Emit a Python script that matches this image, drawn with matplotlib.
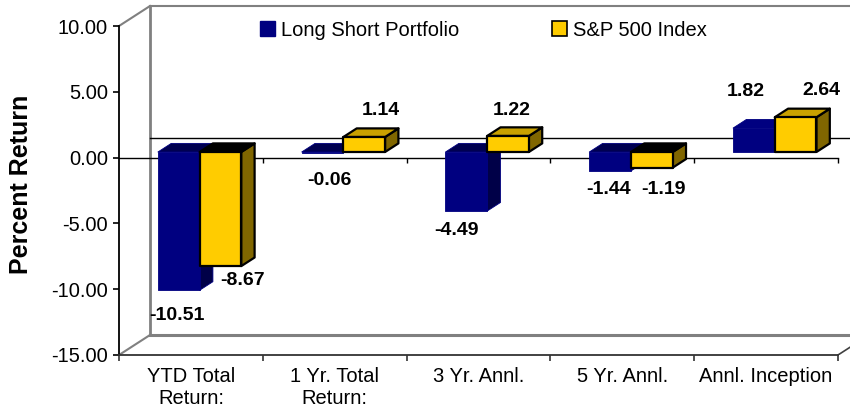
import matplotlib
matplotlib.use("Agg")
import matplotlib.pyplot as plt
from matplotlib.patches import Polygon, Patch

categories = ["YTD Total\nReturn:", "1 Yr. Total\nReturn:", "3 Yr. Annl.", "5 Yr. Annl.", "Annl. Inception"]
long_short = [-10.51, -0.06, -4.49, -1.44, 1.82]
sp500 = [-8.67, 1.14, 1.22, -1.19, 2.64]
series_names = ["Long Short Portfolio", "S&P 500 Index"]
yticks = [-15, -10, -5, 0, 5, 10]

# excel scattered the data labels around, nudge them (pixels)
ls_nudge = [(-2, -25), (7, -28), (-10, -19), (-2, -19), (-8, 37)]
sp_nudge = [(22, -14), (17, 26), (4, 25), (12, -22), (26, 27)]

plt.rcParams['font.family'] = ['Liberation Sans', 'DejaVu Sans']
plt.rcParams['axes.unicode_minus'] = False

W, H = 850, 416
px_cat = 143.8      # pixels per category
px_val = 13.16      # pixels per percent
left_px, bottom_px = 119, 355

fig = plt.figure(figsize=(W / 100, H / 100), dpi=100)
ax = fig.add_axes([left_px / W, (H - bottom_px) / H, (W - left_px) / W, bottom_px / H])
ax.set_xlim(0, (W - left_px) / px_cat)
ax.set_ylim(yticks[0], yticks[0] + bottom_px / px_val)

# depth of the fake 3d box
DX = 31 / px_cat
DY = 20 / px_val
f0 = 0.28           # bars front plane
fd = 0.43           # bar depth
sx, sy = f0 * DX, f0 * DY
bx, by = fd * DX, fd * DY

ncat = len(categories)
ymin, ymax = yticks[0], yticks[-1]
grey = '#808080'

# back wall + floor
ax.plot([DX, DX], [ymin + DY, ymax + DY], color=grey, lw=2, zorder=1)
ax.plot([DX, 10], [ymax + DY, ymax + DY], color=grey, lw=1.5, zorder=1)
ax.plot([DX, 10], [ymin + DY, ymin + DY], color=grey, lw=2.2, zorder=1)
ax.plot([0, DX], [ymax, ymax + DY], color=grey, lw=1.5, zorder=1)
ax.plot([0, DX], [ymin, ymin + DY], color=grey, lw=1.5, zorder=1)
ax.plot([ncat, ncat + DX], [ymin, ymin + DY], color='#404040', lw=1.2, zorder=1)
# zero lines, back and front
ax.plot([DX, 10], [DY, DY], color='black', lw=1, zorder=1)
ax.plot([0, ncat], [0, 0], color='black', lw=1, zorder=1)
ax.vlines(range(1, ncat + 1), -5 / px_val, 0, color='black', lw=1, zorder=1)


def draw_bar(x0, w, v, front, top, side, edge, lw):
    x0 = x0 + sx
    x1 = x0 + w
    lo, hi = min(v, 0) + sy, max(v, 0) + sy
    side_poly = [(x1, lo), (x1, hi), (x1 + bx, hi + by), (x1 + bx, lo + by)]
    top_poly = [(x0, hi), (x1, hi), (x1 + bx, hi + by), (x0 + bx, hi + by)]
    front_poly = [(x0, lo), (x1, lo), (x1, hi), (x0, hi)]
    for pts, c in [(side_poly, side), (top_poly, top), (front_poly, front)]:
        ax.add_patch(Polygon(pts, closed=True, facecolor=c, edgecolor=edge,
                             lw=lw, joinstyle='round', zorder=3))
    return x0 + w / 2, v + sy


bw = 0.29
fs_lab = 14
for i in range(ncat):
    v = long_short[i]
    cx, cy = draw_bar(i + 0.5 - bw, bw, v, '#000080',
                      '#000080' if v > 0 else '#000050', '#000048', '#000080', 0.6)
    ax.annotate(f"{v:.2f}", (cx, cy), xytext=ls_nudge[i], textcoords='offset pixels',
                ha='center', va='center', fontsize=fs_lab, fontweight='bold', zorder=5)
    v = sp500[i]
    cx, cy = draw_bar(i + 0.5, bw, v, '#FFCC00',
                      '#C9A100' if v > 0 else '#000000', '#806600', 'black', 1.6)
    ax.annotate(f"{v:.2f}", (cx, cy), xytext=sp_nudge[i], textcoords='offset pixels',
                ha='center', va='center', fontsize=fs_lab, fontweight='bold', zorder=5)

# axes
for s in ['top', 'right']:
    ax.spines[s].set_visible(False)
ax.spines['left'].set_bounds(ymin, ymax)
ax.spines['left'].set_linewidth(1.3)
ax.spines['bottom'].set_bounds(0, ncat)
ax.spines['bottom'].set_color('#333333')
ax.spines['bottom'].set_linewidth(1.3)
ax.set_yticks(yticks)
ax.set_yticklabels([f"{t:.2f}" for t in yticks], fontsize=14.5)
ax.tick_params(axis='y', direction='out', length=4, width=1.2, pad=4)
ax.set_xticks([i + 0.5 for i in range(ncat)])
ax.set_xticklabels(categories, fontsize=14.5)
ax.tick_params(axis='x', which='major', length=0, pad=9)
ax.set_xticks(range(ncat + 1), minor=True)
ax.tick_params(axis='x', which='minor', direction='out', length=4, width=1.2, color='#333333')

fig.text(21 / W, 1 - 184 / H, "Percent Return", rotation=90, ha='center', va='center',
         fontsize=18, fontweight='bold')

handles = [Patch(facecolor='#000080', edgecolor='#000080'),
           Patch(facecolor='#FFCC00', edgecolor='black', lw=1.2)]
fig.legend(handles, series_names, loc='center left', bbox_to_anchor=(260 / W, 1 - 30 / H),
           ncol=2, frameon=False, fontsize=14.5, handlelength=0.75, handleheight=0.75,
           handletextpad=0.3, columnspacing=4.6, borderpad=0, borderaxespad=0)

fig.savefig("out.png", dpi=100)
